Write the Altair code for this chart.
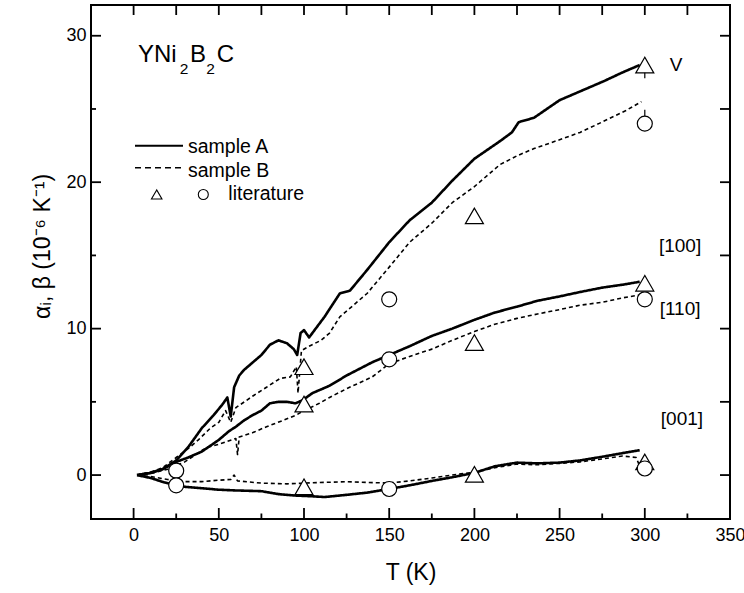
import altair as alt
import pandas as pd

# ---------------- data ----------------
T_100A = [2, 10, 17, 25, 32, 40, 47, 52, 55, 57, 59, 62, 65, 70, 75, 80, 85, 90, 94, 96, 98, 100,
          103, 112, 121, 127, 137, 150, 162, 175, 187, 200, 215, 222, 226, 235, 250, 262, 276, 287, 297]
V_100A = [0, 0.15, 0.4, 1.0, 1.9, 3.2, 4.1, 4.8, 5.3, 4.0, 6.0, 6.8, 7.2, 7.7, 8.2, 8.9, 9.2, 9.0, 8.6, 8.2, 9.7, 9.9,
          9.4, 10.8, 12.4, 12.6, 14.0, 15.9, 17.4, 18.6, 20.1, 21.6, 22.8, 23.4, 24.1, 24.4, 25.6, 26.2, 26.9, 27.5, 28.0]

T_100B = [2, 10, 17, 25, 32, 38, 45, 50, 54, 57, 60, 65, 70, 78, 86, 92, 95.5, 96.5, 98.5, 103, 110, 115,
          121, 137, 150, 162, 175, 187, 200, 215, 225, 235, 250, 262, 273, 289, 298]
V_100B = [0, 0.2, 0.5, 1.2, 1.8, 2.4, 3.2, 3.6, 4.4, 3.6, 4.6, 5.0, 5.4, 6.0, 6.6, 6.7, 7.4, 5.6, 8.5, 8.8, 9.2, 9.7,
          10.8, 12.4, 14.2, 15.9, 17.2, 18.6, 19.7, 21.2, 21.8, 22.3, 22.9, 23.4, 24.0, 24.9, 25.5]

T_110A = [2, 10, 17, 25, 32, 40, 50, 56, 60, 65, 70, 75, 80, 85, 90, 95, 99, 105, 115, 125, 140, 150,
          162, 175, 187, 200, 212, 225, 237, 250, 262, 275, 287, 297]
V_110A = [0, 0.15, 0.4, 0.9, 1.2, 1.6, 2.4, 3.0, 3.3, 3.75, 4.1, 4.4, 4.9, 5.0, 5.0, 4.9, 5.1, 5.6, 6.1, 6.8, 7.7, 8.2,
          8.8, 9.5, 10.0, 10.6, 11.1, 11.5, 11.9, 12.2, 12.5, 12.8, 13.0, 13.2]

T_110B = [2, 10, 20, 30, 43, 50, 55, 60, 61, 62, 70, 78, 87, 95.5, 100, 109, 115, 125, 140, 150,
          162, 175, 187, 200, 212, 225, 237, 250, 262, 275, 287, 297]
V_110B = [0, 0.1, 0.4, 0.9, 1.9, 2.1, 2.3, 2.5, 1.4, 2.6, 2.9, 3.3, 3.7, 4.1, 4.4, 4.9, 5.3, 5.9, 6.7, 7.6,
          8.1, 8.6, 9.2, 9.8, 10.3, 10.7, 11.0, 11.3, 11.6, 11.8, 12.1, 12.3]

T_001A = [2, 10, 18, 25, 30, 40, 50, 60, 75, 85, 95, 105, 112, 125, 137, 150, 162, 175, 187, 200,
          212, 225, 237, 250, 262, 275, 287, 297]
V_001A = [0, -0.2, -0.5, -0.7, -0.8, -0.9, -1.0, -1.05, -1.1, -1.3, -1.4, -1.45, -1.5, -1.35, -1.2, -0.95,
          -0.7, -0.4, -0.15, 0.15, 0.6, 0.85, 0.8, 0.85, 1.0, 1.25, 1.5, 1.7]

T_001B = [2, 10, 20, 30, 40, 50, 57, 59, 61, 75, 90, 100, 112, 125, 137, 150, 162, 175, 187, 200,
          212, 225, 237, 250, 262, 275, 287, 295, 297]
V_001B = [0, -0.1, -0.3, -0.45, -0.45, -0.35, -0.3, 0.0, -0.4, -0.55, -0.6, -0.55, -0.5, -0.45, -0.5, -0.55,
          -0.4, -0.2, 0.0, 0.2, 0.5, 0.75, 0.7, 0.8, 0.9, 1.1, 1.3, 1.2, 0.6]

TRI_T = [100, 100, 100, 200, 200, 200, 300, 300, 300]
TRI_V = [7.4, 4.85, -0.8, 17.7, 9.05, 0.05, 28.0, 13.1, 0.9]
CIR_T = [25, 25, 150, 150, 150, 300, 300, 300]
CIR_V = [0.3, -0.7, 12.0, 7.9, -0.95, 24.0, 12.0, 0.45]

ERR_T = [300, 300]
ERR_LO = [27.1, 24.5]
ERR_HI = [27.6, 24.95]

LABELS = ["V", "[100]", "[110]", "[001]"]
LABEL_T = [318.3, 320.7, 320.7, 321.8]
LABEL_V = [27.97, 15.64, 11.34, 3.82]

X_LABELS = [0, 50, 100, 150, 200, 250, 300, 350]
Y_LABELS = [0, 10, 20, 30]
X_MAJOR = [0, 50, 100, 150, 200, 250, 300]
X_MINOR = [25, 75, 125, 175, 225, 275, 325]
X_TOP = [0, 25, 50, 75, 100, 125, 150, 175, 200, 225, 250, 275, 300, 325]
Y_MAJOR = [0, 10, 20, 30]
Y_MINOR = [5, 15, 25]
Y_RIGHT = [0, 5, 10, 15, 20, 25, 30]

LEGEND_TEXT = ["sample A", "sample B", "literature"]

# ---------------- build tables ----------------
series = [("100A", "A", T_100A, V_100A), ("100B", "B", T_100B, V_100B),
          ("110A", "A", T_110A, V_110A), ("110B", "B", T_110B, V_110B),
          ("001A", "A", T_001A, V_001A), ("001B", "B", T_001B, V_001B)]
rows = []
for name, smp, ts, vs in series:
    for t, v in zip(ts, vs):
        rows.append({"T": t, "v": v, "curve": name, "sample": smp})
df = pd.DataFrame(rows)

lit = pd.DataFrame({"T": TRI_T + CIR_T, "v": TRI_V + CIR_V,
                    "kind": ["tri"] * len(TRI_T) + ["cir"] * len(CIR_T)})
err = pd.DataFrame({"T": ERR_T, "v": ERR_LO, "hi": ERR_HI})
lab = pd.DataFrame({"T": LABEL_T, "v": LABEL_V, "text": LABELS})

W, H = 639, 514
FONT = "Liberation Sans"
xs = alt.Scale(domain=[-25, 350], nice=False, zero=False)
ys = alt.Scale(domain=[-3, 32.1], nice=False, zero=False)

x_axis = alt.Axis(values=X_LABELS, ticks=False, tickSize=0, domain=False, grid=False,
                  labelFontSize=18, labelPadding=7, labelFlush=False, labelColor="black",
                  title="T (K)", titleFontSize=23, titleFontWeight="normal", titleColor="black",
                  titleY=60, titleBaseline="alphabetic")
y_axis = alt.Axis(values=Y_LABELS, ticks=False, tickSize=0, domain=False, grid=False,
                  labelFontSize=18, labelPadding=5, labelColor="black",
                  title="αᵢ, β (10⁻⁶ K⁻¹)", titleFontSize=23, titleFontWeight="normal",
                  titleColor="black", titleX=-49, titleY=241, titleAngle=270,
                  titleAlign="center", titleBaseline="middle")

X = lambda f="T:Q": alt.X(f, scale=xs, axis=x_axis)
Y = lambda f="v:Q": alt.Y(f, scale=ys, axis=y_axis)

lines = alt.Chart(df).mark_line(color="black", strokeJoin="round").encode(
    x=X(), y=Y(),
    detail="curve:N",
    strokeDash=alt.StrokeDash("sample:N", scale=alt.Scale(domain=["A", "B"], range=[[1, 0], [4, 3]]), legend=None),
    strokeWidth=alt.StrokeWidth("sample:N", scale=alt.Scale(domain=["A", "B"], range=[2.6, 1.6]), legend=None),
)

errs = alt.Chart(err).mark_rule(color="black", strokeWidth=1.2).encode(
    x=X(), y=Y(), y2="hi:Q",
)

pts = alt.Chart(lit).mark_point(filled=True, fill="white", stroke="black", strokeWidth=1.2, opacity=1).encode(
    x=X(), y=Y(),
    shape=alt.Shape("kind:N", scale=alt.Scale(domain=["tri", "cir"], range=["triangle-up", "circle"]), legend=None),
    size=alt.Size("kind:N", scale=alt.Scale(domain=["tri", "cir"], range=[324, 225]), legend=None),
)

labels = alt.Chart(lab).mark_text(fontSize=19, font=FONT, color="black", align="center", baseline="middle").encode(
    x=X(), y=Y(), text="text:N",
)


def xticks(vals, y0, y1):
    return alt.Chart(pd.DataFrame({"T": vals})).mark_rule(color="black", strokeWidth=1.8).encode(
        x=X(), y=alt.value(y0), y2=alt.value(y1))


def yticks(vals, x0, x1):
    return alt.Chart(pd.DataFrame({"v": vals})).mark_rule(color="black", strokeWidth=1.8).encode(
        y=Y(), x=alt.value(x0), x2=alt.value(x1))


ticks = [xticks(X_MAJOR, H, H - 11), xticks(X_MINOR, H, H - 5.5), xticks(X_TOP, 0, 10),
         yticks(Y_MAJOR, 0, 10), yticks(Y_MINOR, 0, 5), yticks(Y_RIGHT, W - 10, W)]

one = pd.DataFrame({"k": [0]})
leg_a = alt.Chart(one).mark_rule(color="black", strokeWidth=2).encode(
    x=alt.value(44), x2=alt.value(92), y=alt.value(140.7))
leg_b = alt.Chart(one).mark_rule(color="black", strokeWidth=1.4, strokeDash=[6, 4]).encode(
    x=alt.value(44), x2=alt.value(92), y=alt.value(162.7))
leg_tri = alt.Chart(one).mark_point(shape="triangle-up", size=110, filled=True, fill="white",
                                    stroke="black", strokeWidth=1.1, opacity=1).encode(
    x=alt.value(65.7), y=alt.value(189.5))
leg_cir = alt.Chart(one).mark_point(shape="circle", size=100, filled=True, fill="white",
                                    stroke="black", strokeWidth=1.1, opacity=1).encode(
    x=alt.value(112.3), y=alt.value(189.5))
leg_pos = [(97, 148.3), (97, 171.7), (137.3, 195)]
leg_txt = [
    alt.Chart(one).mark_text(text=t, fontSize=19.5, font=FONT, align="left", baseline="alphabetic",
                             color="black").encode(x=alt.value(px), y=alt.value(py))
    for t, (px, py) in zip(LEGEND_TEXT, leg_pos)
]

# compound title YNi2B2C with real subscripts
title_parts = [("YNi", 47, 56.7, 24), ("2", 88.8, 69, 15.5), ("B", 99, 56.7, 24), ("2", 115.3, 69, 15.5),
               ("C", 125.7, 56.7, 24)]
title_marks = [
    alt.Chart(one).mark_text(text=t, fontSize=fs, font=FONT, align="left", baseline="alphabetic",
                             color="black").encode(x=alt.value(px), y=alt.value(py))
    for t, px, py, fs in title_parts
]

chart = alt.layer(
    lines, errs, pts, labels, *ticks, leg_a, leg_b, leg_tri, leg_cir, *leg_txt, *title_marks
).properties(
    width=W, height=H,
    padding={"left": 91, "top": 5, "right": 14, "bottom": 74},
    autosize=alt.AutoSizeParams(type="none"),
    background="white",
).configure(font=FONT).configure_view(stroke="black", strokeWidth=2)

chart.save("out.html", embed_options={"renderer": "svg", "actions": False})
